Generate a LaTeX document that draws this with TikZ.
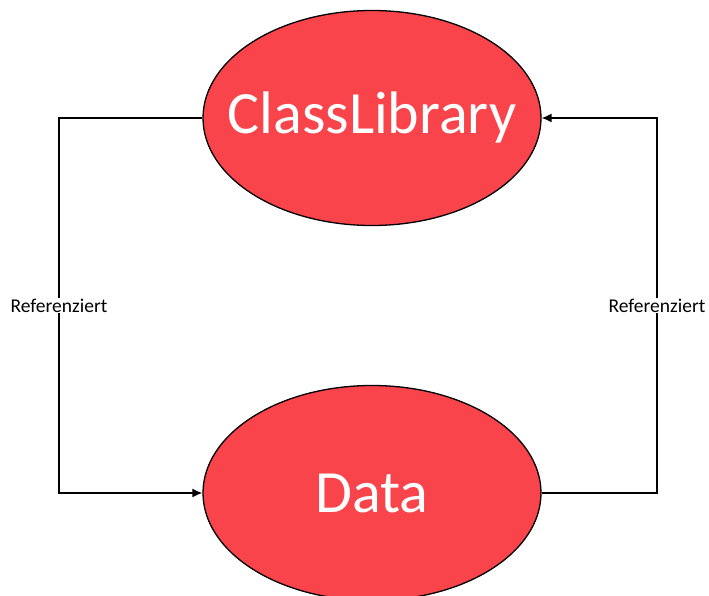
\documentclass[tikz,border=0pt]{standalone}
\usepackage{fontspec}
\setmainfont{Carlito}
\usepackage{tikz}
\usetikzlibrary{shapes.geometric,arrows.meta}

\definecolor{projred}{RGB}{248,68,74}

\tikzset{
	proj/.style={shape=ellipse, draw=black, fill=projred, line width=1.3pt,
		minimum width=338pt, minimum height=215pt, inner sep=0pt,
		text=white, font=\fontsize{60}{60}\selectfont},
	refline/.style={line width=1.4pt, -{Latex[length=10pt,width=9pt]}},
	reflabel/.style={fill=white, inner sep=1pt, font=\fontsize{19.5}{19.5}\selectfont}
}

\begin{document}
\begin{tikzpicture}[x=1pt, y=-1pt]
	
	\useasboundingbox (0, 0) rectangle (709, 596);
	
	\node[proj] (cl)   at (372, 118) {\makebox[0pt]{ClassLibrary}};
	\node[proj] (data) at (372, 493) {\makebox[0pt]{Data}};
	
	\coordinate (lt) at (59, 118);
	\coordinate (lb) at (59, 493);
	\coordinate (rb) at (657, 493);
	\coordinate (rt) at (657, 118);
	
	\draw[refline] (cl.west) -- (lt) -- node[reflabel] {Referenziert} (lb) -- (data.west);
	\draw[refline] (data.east) -- (rb) -- node[reflabel] {Referenziert} (rt) -- (cl.east);
	
\end{tikzpicture}
\end{document}
